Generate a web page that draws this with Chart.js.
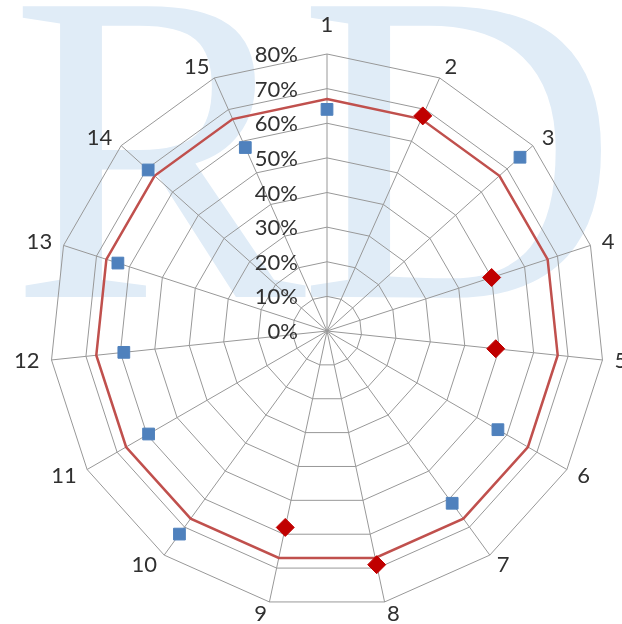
<!DOCTYPE html>
<html>
<head>
<meta charset="utf-8">
<script src="https://cdn.jsdelivr.net/npm/chart.js@4.4.1/dist/chart.umd.min.js"></script>
<style>
  html, body { margin: 0; padding: 0; background: #ffffff; }
  #wrap { position: relative; width: 622px; height: 624px; overflow: hidden; }
  #mark, #chart { position: absolute; left: 0; top: 0; }
</style>
</head>
<body>
<div id="wrap">
  <svg id="mark" width="622" height="624">
    <text x="10" y="297" font-family="Liberation Serif" font-size="444" letter-spacing="-8" fill="#E0ECF7">RD</text>
  </svg>
  <canvas id="chart" width="622" height="624"></canvas>
</div>
<script>
// Spokes of the web
const categories = ['1', '2', '3', '4', '5', '6', '7', '8', '9', '10', '11', '12', '13', '14', '15'];

// Reference ring drawn as a closed red line
const targetLevel = [67, 67, 67, 67, 67, 67, 67, 67, 67, 67, 67, 67, 67, 67, 67];

// Scores shown as blue squares
const squareScores = [64, null, 75, null, null, 57, 61.5, null, null, 72.5, 59.5, 59, 63.5, 69.5, 58];

// Scores shown as red diamonds
const diamondScores = [null, 68, null, 50, 49, null, null, 69, 58, null, null, null, null, null, null];

// Radial value labels
const tickLabels = ['0%', '10%', '20%', '30%', '40%', '50%', '60%', '70%', '80%'];

const TEXT_COLOR = '#303030';
const TEXT_FONT = '22px Lato';

// Draws the percentage labels up the first spoke and the spoke names round the rim
const axisText = {
  id: 'axisText',
  afterDraw(chart) {
    const s = chart.scales.r;
    const ctx = chart.ctx;
    ctx.save();
    ctx.fillStyle = TEXT_COLOR;
    ctx.font = TEXT_FONT;
    ctx.textBaseline = 'middle';

    ctx.textAlign = 'right';
    s.ticks.forEach((t, i) => {
      const r = s.getDistanceFromCenterForValue(t.value);
      ctx.fillText(tickLabels[i], s.xCenter - 29, s.yCenter - r + 1);
    });

    chart.data.labels.forEach((lab, i) => {
      const sin = Math.sin(s.getIndexAngle(i));
      const centred = Math.abs(sin) < 0.01;
      const p = s.getPointPosition(i, s.drawingArea + (centred ? 29 : 12));
      ctx.textAlign = centred ? 'center' : (sin > 0 ? 'left' : 'right');
      ctx.fillText(lab, p.x, p.y);
    });
    ctx.restore();
  }
};

new Chart(document.getElementById('chart'), {
  type: 'radar',
  data: {
    labels: categories,
    datasets: [
      {
        label: 'Squares',
        data: squareScores,
        showLine: false,
        fill: false,
        borderColor: 'rgba(0,0,0,0)',
        backgroundColor: 'rgba(0,0,0,0)',
        pointStyle: 'rect',
        pointRadius: 8.3,
        pointHoverRadius: 8.3,
        pointBackgroundColor: '#4F81BD',
        pointBorderColor: '#4F81BD',
        pointBorderWidth: 1
      },
      {
        label: 'Diamonds',
        data: diamondScores,
        showLine: false,
        fill: false,
        borderColor: 'rgba(0,0,0,0)',
        backgroundColor: 'rgba(0,0,0,0)',
        pointStyle: 'rectRot',
        pointRadius: 9,
        pointHoverRadius: 9,
        pointBackgroundColor: '#C00000',
        pointBorderColor: '#C00000',
        pointBorderWidth: 1
      },
      {
        label: 'Target',
        data: targetLevel,
        fill: false,
        borderColor: '#C0504D',
        backgroundColor: 'rgba(0,0,0,0)',
        borderWidth: 2.5,
        pointRadius: 0,
        pointHoverRadius: 0,
        tension: 0
      }
    ]
  },
  options: {
    responsive: false,
    animation: false,
    devicePixelRatio: 1,
    layout: { padding: { left: 50, top: 54, right: 18, bottom: 16 } },
    plugins: {
      legend: { display: false },
      tooltip: { enabled: false }
    },
    scales: {
      r: {
        min: 0,
        max: 80,
        ticks: { stepSize: 10, display: false },
        grid: { color: '#989898', lineWidth: 1 },
        angleLines: { color: '#989898', lineWidth: 1 },
        pointLabels: { display: false }
      }
    }
  },
  plugins: [axisText]
});
</script>
</body>
</html>
